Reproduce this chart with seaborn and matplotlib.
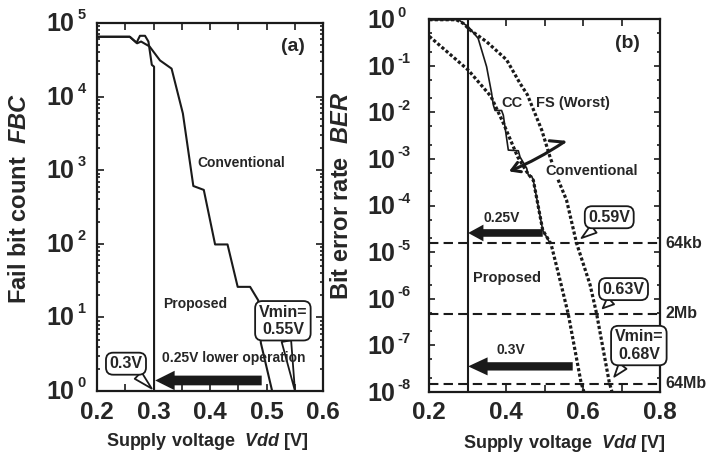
import numpy as np
import pandas as pd
import matplotlib
matplotlib.use("Agg")
import matplotlib.pyplot as plt
import seaborn as sns
import matplotlib.ticker as mticker
from matplotlib.patches import FancyArrowPatch, ArrowStyle
from matplotlib.transforms import blended_transform_factory, ScaledTranslation

# ---------------- data: panel (a) fail bit count ----------------
a_prop_v = [0.200, 0.258, 0.270, 0.276, 0.285, 0.291, 0.297, 0.301, 0.301]
a_prop_fbc = [6.5e4, 6.5e4, 5.4e4, 6.7e4, 6.7e4, 5.6e4, 2.7e4, 2.55e4, 1.0]

a_conv_v = [0.200, 0.258, 0.271, 0.278, 0.293, 0.3115, 0.332, 0.352, 0.3705,
            0.389, 0.409, 0.431, 0.449, 0.471, 0.4855, 0.490, 0.510]
a_conv_fbc = [6.5e4, 6.5e4, 5.3e4, 5.6e4, 4.8e4, 3.1e4, 2.4e4, 5.9e3, 6.1e2,
              5.4e2, 98, 98, 26, 26, 17, 4.5, 1.0]

a_xticks = [0.2, 0.3, 0.4, 0.5, 0.6]
a_yticks = [1e0, 1e1, 1e2, 1e3, 1e4, 1e5]
a_ytick_exps = ["0", "1", "2", "3", "4", "5"]

# ---------------- data: panel (b) bit error rate ----------------
b_meas_v = [0.200, 0.262, 0.275, 0.288, 0.301, 0.327, 0.349, 0.362, 0.3665, 0.371,
            0.388, 0.3925, 0.4055, 0.4315, 0.436, 0.4533, 0.4575, 0.466, 0.4705,
            0.495, 0.514]
b_meas_ber = [0.97, 0.97, 1.0, 0.82, 0.70, 0.39, 9.6e-2, 2.6e-2, 1.45e-2, 1.1e-2,
              1.1e-2, 8.7e-3, 1.55e-3, 1.5e-3, 1.1e-3, 6.3e-4, 4.5e-4, 4.3e-4, 3.5e-4,
              2.95e-5, 1.55e-5]

b_cc_v = [0.200, 0.206, 0.3014, 0.3604, 0.3925, 0.430, 0.456, 0.4705, 0.495,
          0.5165, 0.540, 0.5615, 0.5945, 0.602]
b_cc_ber = [0.43, 0.39, 8.1e-2, 2.2e-2, 5.9e-3, 1.1e-3, 4.9e-4, 3.5e-4, 2.95e-5,
            1.5e-5, 2.5e-6, 4.6e-7, 1.6e-8, 1.0e-8]

b_fs_v = [0.200, 0.270, 0.288, 0.306, 0.349, 0.401, 0.436, 0.455, 0.4923, 0.514,
          0.5355, 0.557, 0.583, 0.618, 0.635, 0.668, 0.675]
b_fs_ber = [0.98, 0.98, 0.82, 0.59, 0.33, 0.135, 4.2e-2, 2.4e-2, 4.2e-3, 1.1e-3,
            3.5e-4, 1.3e-4, 1.55e-5, 2.0e-6, 4.8e-7, 1.6e-8, 1.0e-8]

b_capacity_labels = ["64kb", "2Mb", "64Mb"]
b_capacity_ber = [1.53e-5, 4.77e-7, 1.49e-8]
b_vline = 0.3

b_xticks = [0.2, 0.4, 0.6, 0.8]
b_yticks = [1, 1e-1, 1e-2, 1e-3, 1e-4, 1e-5, 1e-6, 1e-7, 1e-8]
b_ytick_exps = ["0", "-1", "-2", "-3", "-4", "-5", "-6", "-7", "-8"]

# ---------------- style ----------------
sns.set_theme(style="ticks")
plt.rcParams["font.family"] = ["Liberation Sans", "DejaVu Sans"]
plt.rcParams["font.weight"] = "bold"
plt.rcParams["axes.labelweight"] = "bold"
plt.rcParams["mathtext.fontset"] = "custom"
plt.rcParams["mathtext.rm"] = "Liberation Sans:bold"
plt.rcParams["mathtext.bf"] = "Liberation Sans:bold"
plt.rcParams["mathtext.it"] = "Liberation Sans:italic:bold"
plt.rcParams["mathtext.sf"] = "Liberation Sans:bold"
plt.rcParams["axes.unicode_minus"] = False

fig = plt.figure(figsize=(7.22, 4.55), dpi=100)
W, H = 722.0, 455.0
axa = fig.add_axes([97 / W, 1 - 391 / H, 226 / W, 368 / H])
axb = fig.add_axes([429.3 / W, 1 - 391.7 / H, 230.7 / W, 372.4 / H])


def style_axes(ax):
    for s in ax.spines.values():
        s.set_linewidth(1.6)
        s.set_color("k")
    ax.set_facecolor("white")
    ax.tick_params(which="both", direction="in", top=True, right=True,
                   color="k", width=1.2)
    ax.tick_params(which="major", length=5)


def log_labels(ax, ticks, exps, x10, dy10, xexp, dyexp):
    """Draw '10' plus a small exponent beside each decade tick (offsets in px)."""
    base = blended_transform_factory(ax.transAxes, ax.transData)
    for t, e in zip(ticks, exps):
        tr1 = base + ScaledTranslation(x10 / 100.0, -dy10 / 100.0, fig.dpi_scale_trans)
        ax.text(0, t, "10", transform=tr1, fontsize=18, fontweight="bold",
                ha="left", va="center", clip_on=False)
        tr2 = base + ScaledTranslation(xexp / 100.0, -dyexp / 100.0, fig.dpi_scale_trans)
        ax.text(0, t, e, transform=tr2, fontsize=10.5, fontweight="bold",
                ha="left", va="baseline", clip_on=False)


def callout(ax, text, tip, center, fs=11.5):
    ax.annotate(text, xy=tip, xytext=center, ha="center", va="center",
                fontsize=fs, fontweight="bold", linespacing=1.2, zorder=6,
                bbox=dict(boxstyle="round,pad=0.22,rounding_size=0.45",
                          fc="white", ec="k", lw=1.3),
                arrowprops=dict(arrowstyle="wedge,tail_width=0.6,shrink_factor=0.5",
                                fc="white", ec="k", lw=1.3, shrinkA=0, shrinkB=0))


def block_arrow(ax, start, end, tail, hw, hl):
    st = ArrowStyle("simple", head_length=hl, head_width=hw, tail_width=tail)
    p = FancyArrowPatch(start, end, arrowstyle=st, mutation_scale=1,
                        fc="k", ec="k", lw=0, shrinkA=0, shrinkB=0, zorder=4)
    ax.add_patch(p)


# ---------------- panel (a) ----------------
sns.lineplot(x=a_conv_v, y=a_conv_fbc, ax=axa, color="k", lw=1.5,
             sort=False, estimator=None)
sns.lineplot(x=a_prop_v, y=a_prop_fbc, ax=axa, color="k", lw=1.5,
             sort=False, estimator=None)
axa.set_yscale("log")
axa.set_xlim(0.2, 0.6)
axa.set_ylim(1, 1e5)
style_axes(axa)
axa.xaxis.set_major_locator(mticker.FixedLocator(a_xticks))
axa.xaxis.set_minor_locator(mticker.MultipleLocator(0.05))
axa.tick_params(axis="x", which="minor", length=5)
axa.set_xticklabels([f"{v:.1f}" for v in a_xticks], fontsize=17.5, fontweight="bold")
axa.yaxis.set_major_locator(mticker.FixedLocator(a_yticks))
axa.yaxis.set_major_formatter(mticker.NullFormatter())
axa.yaxis.set_minor_locator(mticker.LogLocator(base=10, subs=np.arange(2, 10), numticks=20))
axa.yaxis.set_minor_formatter(mticker.NullFormatter())
axa.tick_params(axis="y", which="minor", length=2.5)
axa.tick_params(axis="x", which="major", pad=7)
log_labels(axa, a_yticks, a_ytick_exps, -50.3, 1.0, -19.7, -4.0)

axa.set_ylabel(r"Fail bit count  $\mathit{FBC}$", fontsize=17, fontweight="bold")
axa.yaxis.set_label_coords(-0.29, 0.523)
axa.set_xlabel(r"Supply voltage  $\mathit{Vdd}$ [V]", fontsize=13, fontweight="bold")
axa.xaxis.set_label_coords(0.485, -0.11)

axa.text(0.546, 4.8e4, "(a)", fontsize=14, fontweight="bold", ha="center", va="center")
axa.text(0.4557, 1.25e3, "Conventional", fontsize=10, fontweight="bold", ha="center", va="center")
axa.text(0.374, 15.2, "Proposed", fontsize=10, fontweight="bold", ha="center", va="center")
block_arrow(axa, (0.4915, 1.39), (0.303, 1.39), 7.0, 14.0, 14.0)
callout(axa, "0.3V", (0.2968, 1.08), (0.2513, 2.35))
callout(axa, "Vmin=\n0.55V", (0.5504, 1.0), (0.529, 9.0))
axa.text(0.4425, 2.78, "0.25V lower operation", fontsize=10, fontweight="bold",
         ha="center", va="center", zorder=8)

# ---------------- panel (b) ----------------
sns.lineplot(x=b_meas_v, y=b_meas_ber, ax=axb, color="k", lw=1.2,
             sort=False, estimator=None)
sns.lineplot(x=b_cc_v, y=b_cc_ber, ax=axb, color="k", lw=2.3, ls=(0, (1, 0.7)),
             sort=False, estimator=None)
sns.lineplot(x=b_fs_v, y=b_fs_ber, ax=axb, color="k", lw=2.3, ls=(0, (1, 0.7)),
             sort=False, estimator=None)
axb.axvline(b_vline, color="k", lw=1.5, zorder=3)
for val in b_capacity_ber:
    axb.axhline(val, color="k", lw=1.5, ls=(0, (4.5, 2.5)), zorder=3)
axb.set_yscale("log")
axb.set_xlim(0.2, 0.8)
axb.set_ylim(1e-8, 1)
style_axes(axb)
axb.xaxis.set_major_locator(mticker.FixedLocator(b_xticks))
axb.xaxis.set_minor_locator(mticker.MultipleLocator(0.1))
axb.tick_params(axis="x", which="minor", length=5)
axb.set_xticklabels([f"{v:.1f}" for v in b_xticks], fontsize=17.5, fontweight="bold")
axb.yaxis.set_major_locator(mticker.FixedLocator(b_yticks))
axb.yaxis.set_major_formatter(mticker.NullFormatter())
axb.yaxis.set_minor_locator(mticker.LogLocator(base=10, subs=(2.0, 5.0), numticks=20))
axb.yaxis.set_minor_formatter(mticker.NullFormatter())
axb.tick_params(axis="y", which="minor", length=2.5)
axb.tick_params(axis="y", which="major", length=4)
axb.tick_params(axis="x", which="major", pad=7)
log_labels(axb, b_yticks, b_ytick_exps, -61.6, 2.0, -31.6, -2.5)

axb.set_ylabel(r"Bit error rate  $\mathit{BER}$", fontsize=17, fontweight="bold")
axb.yaxis.set_label_coords(-0.33, 0.5255)
axb.set_xlabel(r"Supply voltage  $\mathit{Vdd}$ [V]", fontsize=13, fontweight="bold")
axb.xaxis.set_label_coords(0.582, -0.11)

trans = axb.get_yaxis_transform()
for lab, val in zip(b_capacity_labels, b_capacity_ber):
    axb.text(1.022, val, lab, transform=trans, fontsize=11.5, fontweight="bold",
             ha="left", va="center", clip_on=False)

axb.text(0.716, 0.305, "(b)", fontsize=14, fontweight="bold", ha="center", va="center")
axb.text(0.4146, 1.58e-2, "CC", fontsize=10.5, fontweight="bold", ha="center", va="center")
axb.text(0.5737, 1.58e-2, "FS (Worst)", fontsize=10.5, fontweight="bold", ha="center", va="center")
axb.text(0.623, 5.5e-4, "Conventional", fontsize=10.5, fontweight="bold", ha="center",
         va="center", zorder=5,
         bbox=dict(boxstyle="square,pad=0.1", fc="white", ec="none"))
axb.text(0.389, 5.4e-5, "0.25V", fontsize=10, fontweight="bold", ha="center", va="center")
axb.text(0.402, 2.75e-6, "Proposed", fontsize=10.5, fontweight="bold", ha="center", va="center")
axb.text(0.412, 7.9e-8, "0.3V", fontsize=10, fontweight="bold", ha="center", va="center")
block_arrow(axb, (0.495, 2.57e-5), (0.301, 2.57e-5), 5.5, 12.0, 11.0)
block_arrow(axb, (0.573, 3.5e-8), (0.301, 3.5e-8), 6.0, 13.0, 14.0)

axb.plot([0.512, 0.550], [2.46e-3, 2.3e-3], color="k", lw=2.2, solid_capstyle="round", zorder=6)
axb.annotate("", xy=(0.4073, 5.4e-4), xytext=(0.550, 2.3e-3), zorder=6,
             arrowprops=dict(arrowstyle="->,head_length=0.5,head_width=0.3", lw=2.2,
                             color="k", shrinkA=0, shrinkB=0,
                             connectionstyle="arc3,rad=-0.05"))

callout(axb, "0.59V", (0.596, 2.0e-5), (0.668, 5.6e-5))
callout(axb, "0.63V", (0.651, 6.2e-7), (0.705, 1.6e-6))
callout(axb, "Vmin=\n0.68V", (0.681, 2.1e-8), (0.745, 9.8e-8))

fig.savefig("out.png", dpi=100, facecolor="white")
